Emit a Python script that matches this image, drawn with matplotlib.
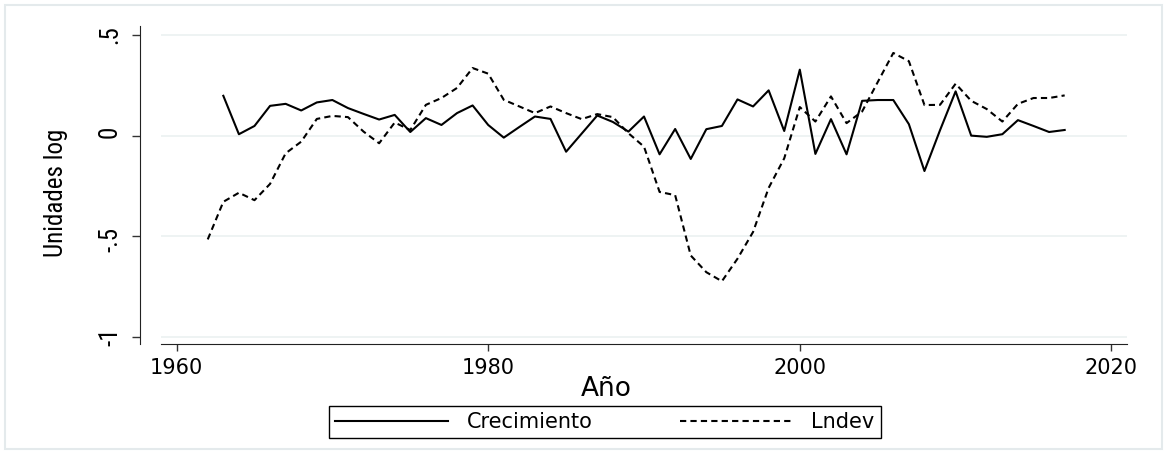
import numpy as np
import matplotlib
matplotlib.use("Agg")
import matplotlib.pyplot as plt
from matplotlib import font_manager
from matplotlib.patches import Rectangle

# series anuales (unidades log)
anios_crec = np.arange(1963, 2018)
crecimiento = [0.198, 0.007, 0.048, 0.148, 0.158, 0.125, 0.165, 0.177, 0.137, 0.108,
               0.080, 0.103, 0.018, 0.087, 0.053, 0.112, 0.150, 0.053,
               -0.010, 0.043, 0.095, 0.083, -0.080, 0.010, 0.100, 0.068, 0.020, 0.095,
               -0.093, 0.033, -0.116, 0.032, 0.048, 0.180, 0.145, 0.225, 0.023, 0.328,
               -0.091, 0.082, -0.093, 0.173, 0.177, 0.177, 0.057, -0.176, 0.027, 0.220,
               0.000, -0.006, 0.007, 0.077, 0.048, 0.018, 0.028]

anios_lndev = np.arange(1962, 2018)
lndev = [-0.516, -0.329, -0.284, -0.321, -0.240, -0.088, -0.030, 0.083, 0.098, 0.092,
         0.020, -0.038, 0.065, 0.028, 0.153, 0.187, 0.237, 0.336, 0.308,
         0.178, 0.145, 0.112, 0.145, 0.112, 0.082, 0.107, 0.092, 0.012, -0.055,
         -0.280, -0.296, -0.596, -0.679, -0.724, -0.612, -0.479, -0.260, -0.113, 0.142,
         0.070, 0.195, 0.062, 0.120, 0.266, 0.411, 0.370, 0.152, 0.153, 0.258,
         0.173, 0.132, 0.070, 0.158, 0.187, 0.187, 0.200]

xticks = [1960, 1980, 2000, 2020]
yticks = [-1, -0.5, 0, 0.5]
ytick_labels = ["-1", "-.5", "0", ".5"]

# fuente estrecha para el eje vertical, si hay alguna instalada
instaladas = {f.name for f in font_manager.fontManager.ttflist}
estrecha = "Liberation Sans"
for nombre in ["Liberation Sans Narrow", "Roboto Condensed", "Open Sans Condensed",
               "DejaVu Sans Condensed", "Noto Sans Condensed"]:
    if nombre in instaladas:
        estrecha = nombre
        break
ysize = 18 if estrecha != "Liberation Sans" else 16

W, H = 1167, 454
fig = plt.figure(figsize=(W / 100, H / 100), dpi=100)
fig.patch.set_facecolor("white")

# marco exterior claro
fig.patches.append(Rectangle((5 / W, 5 / H), (W - 10) / W, (H - 10) / H,
                             transform=fig.transFigure, fill=False,
                             edgecolor="#e4eaec", linewidth=1.5))

ax = fig.add_axes([161 / W, (H - 344) / H, (1127 - 161) / W, (344 - 26) / H])

ax.plot(anios_crec, crecimiento, color="black", lw=1.5, label="Crecimiento")
ax.plot(anios_lndev, lndev, color="black", lw=1.5, linestyle=(0, (3, 2)), label="Lndev")

ax.set_xlim(1959, 2021)
ax.set_ylim(-1.036, 0.545)

ax.set_xticks(xticks)
ax.set_yticks(yticks, ytick_labels)

ax.tick_params(axis="x", length=5, width=1, color="#333333", pad=5,
               labelsize=15, labelfontfamily="DejaVu Sans")
ax.tick_params(axis="y", length=6, width=1, color="#333333", pad=7,
               labelsize=ysize, labelfontfamily=estrecha, labelrotation=90)
for lab in ax.get_yticklabels():
    lab.set_va("center")

ax.grid(axis="y", color="#ebf1f1", lw=1.2)
ax.set_axisbelow(True)

for s in ["top", "right"]:
    ax.spines[s].set_visible(False)
ax.spines["left"].set_position(("outward", 15))
ax.spines["left"].set_color("#222222")
ax.spines["bottom"].set_color("#222222")

ax.set_ylabel("Unidades log", family=estrecha, fontsize=ysize)
ax.yaxis.label.set_va("baseline")
ax.yaxis.set_label_coords((63 - 161) / 966, 0.475)

fig.text(606 / W, 1 - 396 / H, "Año", family="DejaVu Sans", fontsize=19,
         ha="center", va="baseline")

leg = fig.legend(loc="center", bbox_to_anchor=(605 / W, 1 - 422 / H), ncol=2,
                 prop={"family": "DejaVu Sans", "size": 15},
                 frameon=True, fancybox=False, framealpha=1, edgecolor="black",
                 handlelength=5.4, handletextpad=0.9, columnspacing=4.2,
                 borderpad=0.3, borderaxespad=0)
leg.get_frame().set_linewidth(1.0)

fig.savefig("out.png", dpi=100)
